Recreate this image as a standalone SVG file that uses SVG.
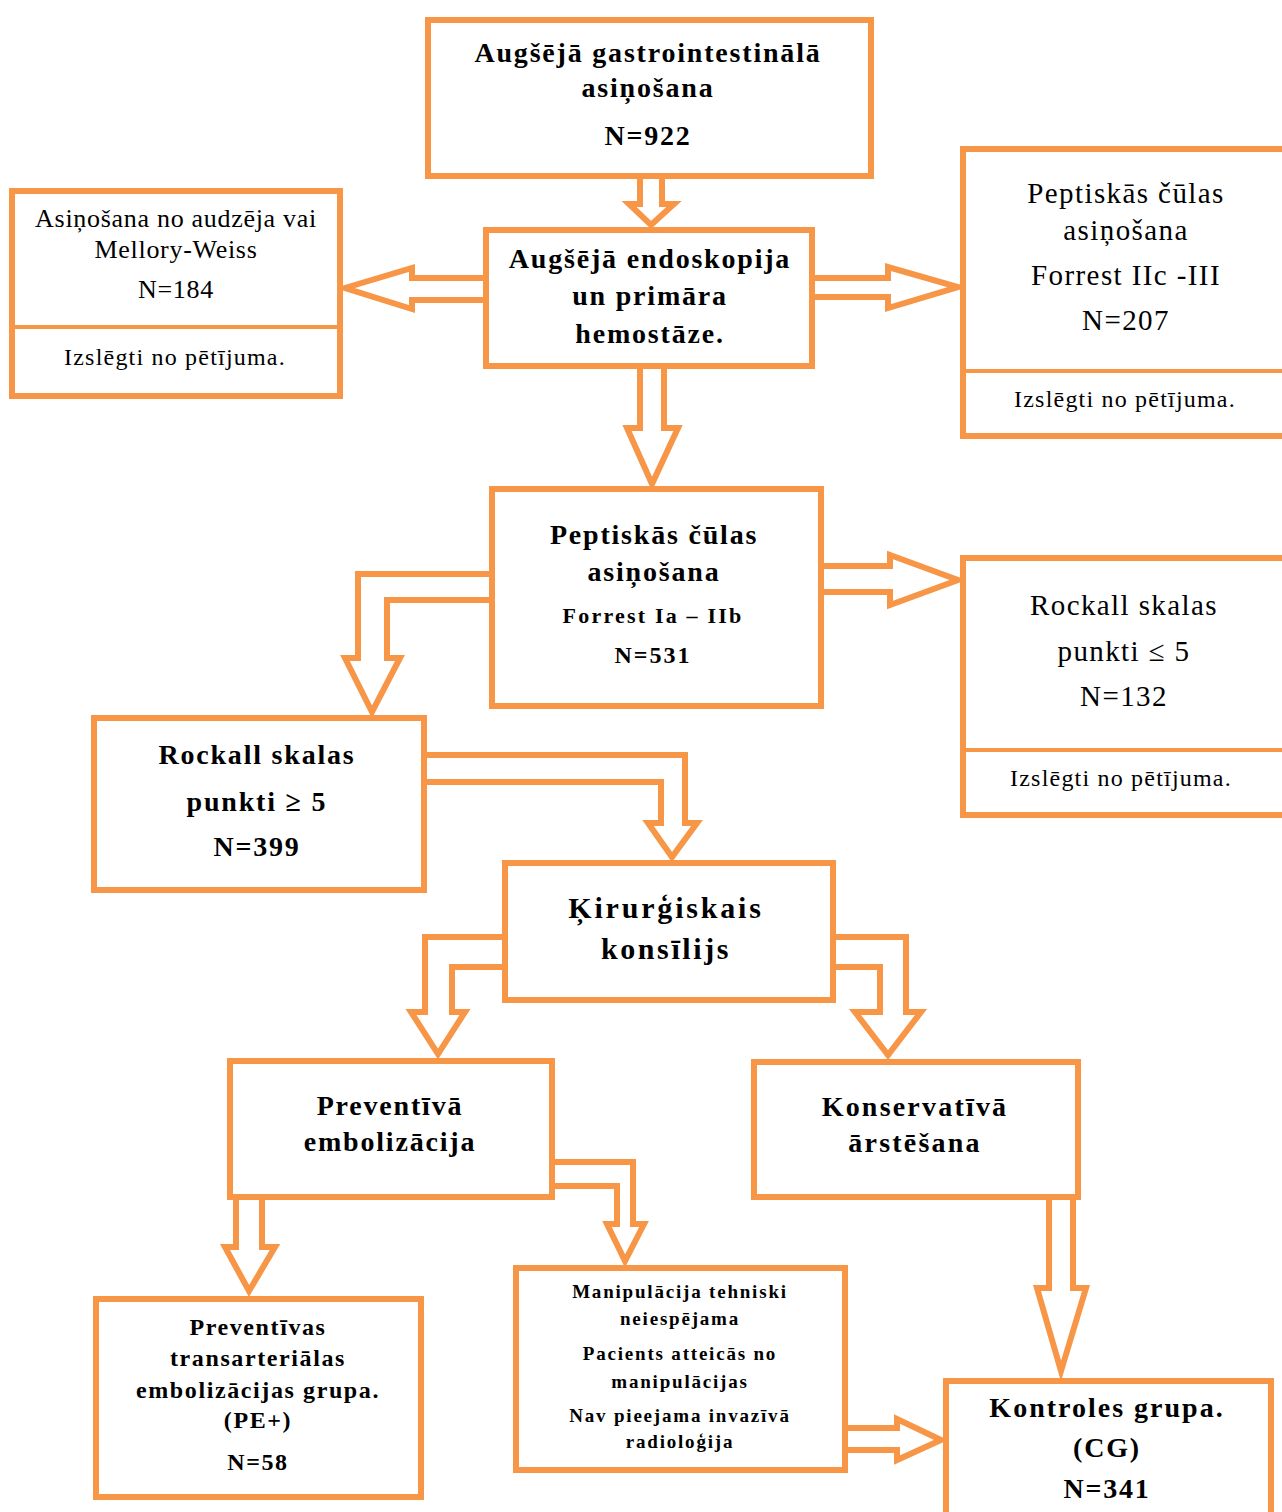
<svg xmlns="http://www.w3.org/2000/svg" width="1282" height="1512" viewBox="0 0 1282 1512">
<style>
.box{fill:#fff;stroke:#F79646;stroke-width:6}
.div{stroke:#F79646;stroke-width:4}
.arr{fill:#fff;stroke:#F79646;stroke-width:6;stroke-linejoin:miter;stroke-miterlimit:10}
text{font-family:"Liberation Serif","Times New Roman",serif;fill:#000;text-anchor:middle}
.h{font-weight:bold;font-size:28px;letter-spacing:1.8px}
.n{font-size:26px;letter-spacing:0.7px}
.nr{font-size:29px;letter-spacing:1.4px}
.x{font-size:24px;letter-spacing:1.2px}
.s{font-weight:bold;font-size:24px;letter-spacing:1.6px}
.m{font-weight:bold;font-size:19px;letter-spacing:1.8px}
</style>
<rect width="1282" height="1512" fill="#fff"/>
<g id="connectors">
<polygon class="arr" points="640,170 640,204 629,204 651,225 674,204 662,204 662,170"/>
<polygon class="arr" points="490,278 412,278 412,268 345,288 412,309 412,300 490,300"/>
<polygon class="arr" points="810,278 888,278 888,267 958,287 888,308 888,297 810,297"/>
<polygon class="arr" points="640,360 640,428 627,428 652,484 678,428 664,428 664,360"/>
<polygon class="arr" points="495,574 358,574 358,658 345,658 372,712 400,658 387,658 387,600 495,600"/>
<polygon class="arr" points="815,566 890,566 890,555 958,580 890,605 890,592 815,592"/>
<polygon class="arr" points="420,755 685,755 685,823 697,823 672,857 648,823 661,823 661,782 420,782"/>
<polygon class="arr" points="510,937 425,937 425,1012 411,1012 438,1054 465,1012 452,1012 452,967 510,967"/>
<polygon class="arr" points="828,937 906,937 906,1012 921,1012 888,1055 855,1012 880,1012 880,967 828,967"/>
<polygon class="arr" points="236,1190 236,1247 225,1247 249,1291 275,1247 262,1247 262,1190"/>
<polygon class="arr" points="550,1162 633,1162 633,1224 644,1224 625,1261 607,1224 617,1224 617,1186 550,1186"/>
<polygon class="arr" points="1049,1195 1049,1288 1037,1288 1061,1371 1086,1288 1073,1288 1073,1195"/>
<polygon class="arr" points="843,1428 897,1428 897,1419 941,1440 897,1460 897,1450 843,1450"/>
</g>
<g id="n-ugib">
<rect class="box" x="428" y="20" width="443" height="156"/>
<text class="h" x="648" y="62">Augšējā gastrointestinālā</text>
<text class="h" x="648" y="97">asiņošana</text>
<text class="h" x="648" y="145">N=922</text>
</g>
<g id="n-endo">
<rect class="box" x="486" y="230" width="326" height="136"/>
<text class="h" x="650" y="268">Augšējā endoskopija</text>
<text class="h" x="650" y="305">un primāra</text>
<text class="h" x="650" y="343">hemostāze.</text>
</g>
<g id="n-tumor">
<rect class="box" x="12" y="191" width="328" height="205"/>
<line class="div" x1="12" y1="327" x2="340" y2="327"/>
<text class="n" x="176" y="227">Asiņošana no audzēja vai</text>
<text class="n" x="176" y="258">Mellory-Weiss</text>
<text class="n" x="176" y="298">N=184</text>
<text class="x" x="175" y="365">Izslēgti no pētījuma.</text>
</g>
<g id="n-forrest2">
<rect class="box" x="963" y="149" width="340" height="287"/>
<line class="div" x1="963" y1="371" x2="1290" y2="371"/>
<text class="nr" x="1126" y="203">Peptiskās čūlas</text>
<text class="nr" x="1126" y="240">asiņošana</text>
<text class="nr" x="1126" y="285">Forrest IIc -III</text>
<text class="nr" x="1126" y="330">N=207</text>
<text class="x" x="1125" y="407">Izslēgti no pētījuma.</text>
</g>
<g id="n-forrest1">
<rect class="box" x="492" y="489" width="329" height="217"/>
<text class="h" x="654" y="544">Peptiskās čūlas</text>
<text class="h" x="654" y="581">asiņošana</text>
<text class="h" x="653" y="623" style="font-size:22px;letter-spacing:2.2px">Forrest Ia – IIb</text>
<text class="h" x="653" y="663" style="font-size:24px;letter-spacing:2px">N=531</text>
</g>
<g id="n-rockall-low">
<rect class="box" x="963" y="558" width="340" height="257"/>
<line class="div" x1="963" y1="750" x2="1290" y2="750"/>
<text class="nr" x="1124" y="615">Rockall skalas</text>
<text class="nr" x="1124" y="661">punkti ≤ 5</text>
<text class="nr" x="1124" y="706">N=132</text>
<text class="x" x="1121" y="786">Izslēgti no pētījuma.</text>
</g>
<g id="n-rockall-high">
<rect class="box" x="94" y="718" width="330" height="172"/>
<text class="h" x="257" y="764">Rockall skalas</text>
<text class="h" x="257" y="811">punkti ≥ 5</text>
<text class="h" x="257" y="856">N=399</text>
</g>
<g id="n-konsilijs">
<rect class="box" x="505" y="863" width="328" height="137"/>
<text class="h" x="666" y="918" style="font-size:30px;letter-spacing:2.8px">Ķirurģiskais</text>
<text class="h" x="666" y="959" style="font-size:30px;letter-spacing:2.6px">konsīlijs</text>
</g>
<g id="n-prev">
<rect class="box" x="230" y="1061" width="322" height="136"/>
<text class="h" x="390" y="1115">Preventīvā</text>
<text class="h" x="390" y="1151">embolizācija</text>
</g>
<g id="n-kons">
<rect class="box" x="754" y="1062" width="324" height="135"/>
<text class="h" x="915" y="1116" style="letter-spacing:2.2px">Konservatīvā</text>
<text class="h" x="915" y="1152" style="letter-spacing:2.2px">ārstēšana</text>
</g>
<g id="n-pe">
<rect class="box" x="96" y="1299" width="325" height="198"/>
<text class="s" x="258" y="1335">Preventīvas</text>
<text class="s" x="258" y="1366">transarteriālas</text>
<text class="s" x="258" y="1398">embolizācijas grupa.</text>
<text class="s" x="258" y="1428">(PE+)</text>
<text class="s" x="258" y="1470">N=58</text>
</g>
<g id="n-manip">
<rect class="box" x="516" y="1268" width="329" height="202"/>
<text class="m" x="680" y="1298">Manipulācija tehniski</text>
<text class="m" x="680" y="1325">neiespējama</text>
<text class="m" x="680" y="1360">Pacients atteicās no</text>
<text class="m" x="680" y="1388">manipulācijas</text>
<text class="m" x="680" y="1422">Nav pieejama invazīvā</text>
<text class="m" x="680" y="1448">radioloģija</text>
</g>
<g id="n-cg">
<rect class="box" x="946" y="1381" width="325" height="200"/>
<text class="h" x="1107" y="1417" style="letter-spacing:2px">Kontroles grupa.</text>
<text class="h" x="1107" y="1457">(CG)</text>
<text class="h" x="1107" y="1498">N=341</text>
</g>
</svg>
